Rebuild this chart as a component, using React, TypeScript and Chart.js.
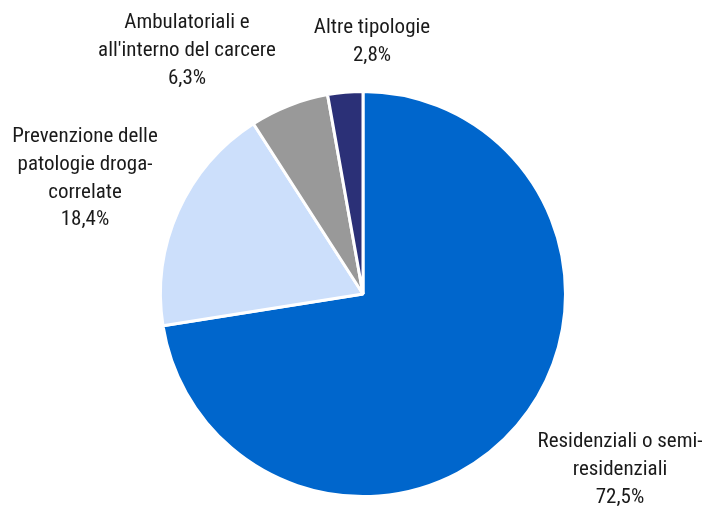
import React, { useEffect, useRef } from "react";
import { Chart, registerables } from "chart.js";

Chart.register(...registerables);

const categories = [
  ["Residenziali o semi-", "residenziali"],
  ["Prevenzione delle", "patologie droga-", "correlate"],
  ["Ambulatoriali e", "all'interno del carcere"],
  ["Altre tipologie"],
];
const values = [72.5, 18.4, 6.3, 2.8];
const valueLabels = ["72,5%", "18,4%", "6,3%", "2,8%"];
const colors = ["#0066CC", "#CCDFFB", "#999999", "#2B3077"];

// label anchor (center x, first line middle y)
const labelPos = [
  [620, 442],
  [85, 137],
  [187, 23],
  [372, 28],
];

const FONT = '"Liberation Sans Narrow", "Arial Narrow", "Roboto Condensed", sans-serif';

const labelPlugin = {
  id: "outerLabels",
  afterDraw(chart: any) {
    const ctx = chart.ctx;
    ctx.save();
    ctx.fillStyle = "#1a1a1a";
    ctx.font = `21px ${FONT}`;
    ctx.textAlign = "center";
    ctx.textBaseline = "middle";
    categories.forEach((lines, i) => {
      const [x, y] = labelPos[i];
      const all = [...lines, valueLabels[i]];
      all.forEach((t, j) => ctx.fillText(t, x, y + j * 27.7));
    });
    ctx.restore();
  },
};

export default function App() {
  const ref = useRef<HTMLCanvasElement>(null);
  useEffect(() => {
    const chart = new Chart(ref.current!, {
      type: "pie",
      data: {
        labels: categories.map((c) => c.join(" ")),
        datasets: [
          {
            data: values,
            backgroundColor: colors,
            borderColor: "#ffffff",
            borderWidth: 3,
          },
        ],
      },
      options: {
        responsive: false,
        animation: false,
        layout: { padding: { left: 159, right: 140, top: 90, bottom: 13 } },
        plugins: { legend: { display: false }, tooltip: { enabled: false } },
      },
      plugins: [labelPlugin],
    });
    return () => chart.destroy();
  }, []);
  return (
    <div style={{ position: "fixed", left: 0, top: 0, width: 707, height: 511, background: "#fff" }}>
      <canvas ref={ref} width={707} height={511} />
    </div>
  );
}
